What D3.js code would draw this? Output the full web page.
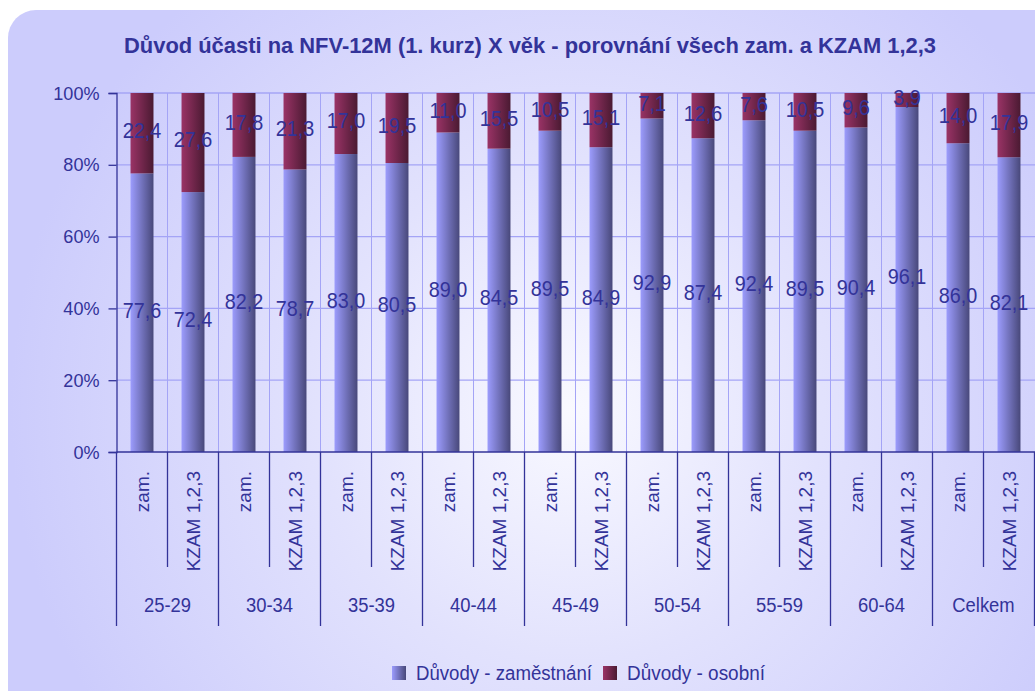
<!DOCTYPE html>
<html>
<head>
<meta charset="utf-8">
<script src="https://cdn.jsdelivr.net/npm/d3@7"></script>
<style>
  body { margin: 0; background: #fff; }
  text { font-family: Arial, "Liberation Sans", sans-serif; fill: #333399; }
</style>
</head>
<body>
<script>
// data
var title = "Důvod účasti na NFV-12M (1. kurz) X věk - porovnání všech zam. a KZAM 1,2,3";
var groups = ["25-29", "30-34", "35-39", "40-44", "45-49", "50-54", "55-59", "60-64", "Celkem"];
var subLabels = ["zam.", "KZAM 1,2,3"];
var seriesNames = ["Důvody - zaměstnání", "Důvody - osobní"];
var zamestnani = [77.6, 72.4, 82.2, 78.7, 83.0, 80.5, 89.0, 84.5, 89.5, 84.9, 92.9, 87.4, 92.4, 89.5, 90.4, 96.1, 86.0, 82.1];
var osobni     = [22.4, 27.6, 17.8, 21.3, 17.0, 19.5, 11.0, 15.5, 10.5, 15.1, 7.1, 12.6, 7.6, 10.5, 9.6, 3.9, 14.0, 17.9];
var yTicks = [0, 20, 40, 60, 80, 100];

var W = 1035, H = 691;
var svg = d3.select("body").append("svg").attr("width", W).attr("height", H);
var defs = svg.append("defs");

// pozadi
var bg = defs.append("radialGradient").attr("id", "bg")
  .attr("gradientUnits", "userSpaceOnUse")
  .attr("cx", 570).attr("cy", 410).attr("r", 560);
bg.append("stop").attr("offset", "0%").attr("stop-color", "#f9f9ff");
bg.append("stop").attr("offset", "45%").attr("stop-color", "#e2e2fd");
bg.append("stop").attr("offset", "100%").attr("stop-color", "#ccccfc");

function barGrad(id, c1, c2) {
  var g = defs.append("linearGradient").attr("id", id).attr("x1", "0%").attr("x2", "100%");
  g.append("stop").attr("offset", "0%").attr("stop-color", c1);
  g.append("stop").attr("offset", "100%").attr("stop-color", c2);
}
barGrad("gBlue", "#9c9cfd", "#48487a");
barGrad("gRed", "#9a3366", "#4a1a32");

svg.append("rect").attr("x", 8).attr("y", 10).attr("width", 1060).attr("height", 720)
  .attr("rx", 28).attr("fill", "url(#bg)");

// skaly
var cats = d3.range(groups.length * 2);
var x = d3.scaleBand().domain(cats).range([116.5, 1034.5]).paddingInner(0.55).paddingOuter(0.275);
var step = x.step();
var x0 = 116.5;
var y = d3.scaleLinear().domain([0, 100]).range([452, 93]);

function condense(sel, k) {
  sel.each(function() {
    var w = this.getComputedTextLength();
    d3.select(this).attr("textLength", w * k).attr("lengthAdjust", "spacingAndGlyphs");
  });
}
var fmt = function(v) { return d3.format(".1f")(v).replace(".", ","); };

// mrizka
svg.append("g").selectAll("line").data(yTicks.slice(1)).enter().append("line")
  .attr("x1", x0).attr("x2", 1035)
  .attr("y1", d => y(d)).attr("y2", d => y(d))
  .attr("stroke", "#a4a4f6").attr("stroke-width", 1.3);
svg.append("g").selectAll("line").data(cats.slice(1)).enter().append("line")
  .attr("x1", d => x0 + d * step).attr("x2", d => x0 + d * step)
  .attr("y1", y(100)).attr("y2", y(0))
  .attr("stroke", "#a4a4f6").attr("stroke-width", 1);

// sloupce
var bars = svg.append("g");
bars.selectAll(".b").data(cats).enter().append("rect")
  .attr("x", d => x(d)).attr("width", x.bandwidth())
  .attr("y", d => y(zamestnani[d])).attr("height", d => y(0) - y(zamestnani[d]))
  .attr("fill", "url(#gBlue)");
bars.selectAll(".r").data(cats).enter().append("rect")
  .attr("x", d => x(d)).attr("width", x.bandwidth())
  .attr("y", d => y(zamestnani[d] + osobni[d])).attr("height", d => y(zamestnani[d]) - y(zamestnani[d] + osobni[d]))
  .attr("fill", "url(#gRed)");

// popisky hodnot
var lab = svg.append("g").attr("font-size", 22).attr("text-anchor", "middle");
lab.selectAll(".lb").data(cats).enter().append("text")
  .attr("x", d => x(d) + x.bandwidth() / 2)
  .attr("y", d => y(zamestnani[d] / 2) - 3)
  .attr("dy", "0.36em")
  .text(d => fmt(zamestnani[d]))
  .call(condense, 0.9);
lab.selectAll(".lr").data(cats).enter().append("text")
  .attr("x", d => x(d) + x.bandwidth() / 2)
  .attr("y", d => y(zamestnani[d] + osobni[d] / 2) - 3)
  .attr("dy", "0.36em")
  .text(d => fmt(osobni[d]))
  .call(condense, 0.9);

// osa y
var yAxis = svg.append("g").attr("transform", "translate(" + x0 + ",0)")
  .call(d3.axisLeft(y).tickValues(yTicks).tickFormat(d => d + "%").tickSize(8).tickPadding(9));
yAxis.select(".domain").attr("stroke", "#333399").attr("stroke-width", 1.3);
yAxis.selectAll(".tick line").attr("stroke", "#333399").attr("stroke-width", 1.3);
yAxis.selectAll(".tick text").attr("font-size", 19).attr("fill", "#333399")
  .attr("font-family", "Arial, 'Liberation Sans', sans-serif")
  .call(condense, 0.95);

// osa x
var ax = svg.append("g");
ax.append("line").attr("x1", x0).attr("x2", 1035).attr("y1", y(0)).attr("y2", y(0))
  .attr("stroke", "#333399").attr("stroke-width", 1.3);
ax.selectAll(".sep").data(d3.range(cats.length + 1)).enter().append("line")
  .attr("x1", d => x0 + d * step).attr("x2", d => x0 + d * step)
  .attr("y1", y(0)).attr("y2", d => d % 2 === 0 ? 626 : 567)
  .attr("stroke", "#333399").attr("stroke-width", 1.3);
ax.selectAll(".sub").data(cats).enter().append("text")
  .attr("transform", d => "translate(" + (x(d) + x.bandwidth() / 2) + ",471) rotate(-90)")
  .attr("text-anchor", "end").attr("dy", "0.35em").attr("font-size", 19)
  .text(d => subLabels[d % 2]);
ax.selectAll(".grp").data(groups).enter().append("text")
  .attr("x", (d, i) => x0 + (i * 2 + 1) * step).attr("y", 612)
  .attr("text-anchor", "middle").attr("font-size", 20)
  .text(d => d)
  .call(condense, 0.92);

// titulek
svg.append("text").attr("x", 530).attr("y", 53).attr("text-anchor", "middle")
  .attr("font-size", 22).attr("font-weight", "bold")
  .attr("textLength", 812).attr("lengthAdjust", "spacingAndGlyphs")
  .text(title);

// legenda
var leg = svg.append("g");
var legX = [392, 603];
var legW = [176, 138];
leg.selectAll("rect").data(seriesNames).enter().append("rect")
  .attr("x", (d, i) => legX[i]).attr("y", 666).attr("width", 14).attr("height", 14)
  .attr("fill", (d, i) => i === 0 ? "url(#gBlue)" : "url(#gRed)");
leg.selectAll("text").data(seriesNames).enter().append("text")
  .attr("x", (d, i) => legX[i] + 24).attr("y", 680).attr("font-size", 20)
  .attr("textLength", (d, i) => legW[i]).attr("lengthAdjust", "spacingAndGlyphs")
  .text(d => d);
</script>
</body>
</html>
